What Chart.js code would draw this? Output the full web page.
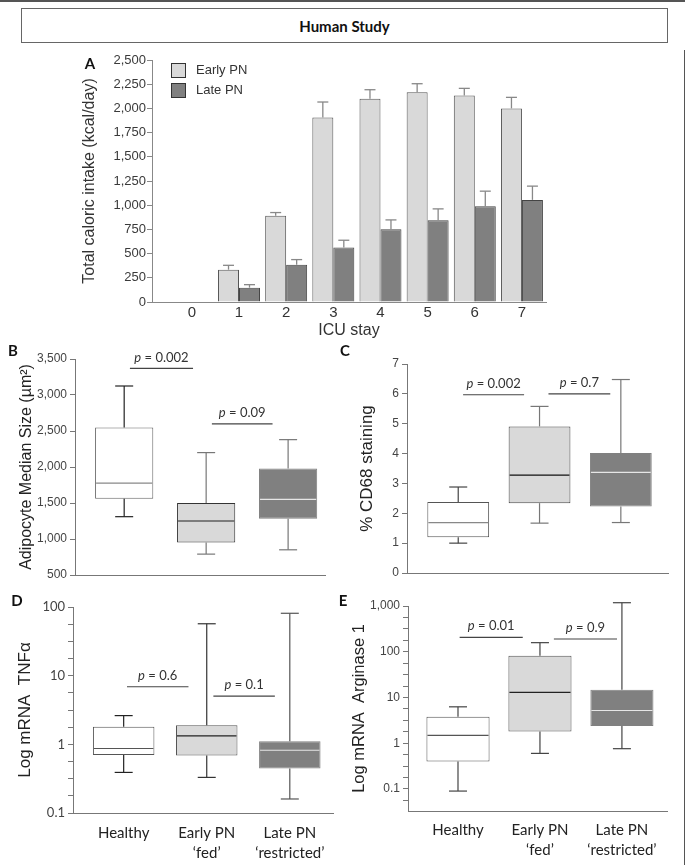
<!DOCTYPE html>
<html>
<head>
<meta charset="utf-8">
<script src="https://cdn.jsdelivr.net/npm/chart.js@4.4.1/dist/chart.umd.min.js"></script>
<style>
  body { margin: 0; background: #fff; }
  #page { position: relative; width: 685px; height: 865px; overflow: hidden; background: #fff; }
  .panel { position: absolute; }
  .lab { position: absolute; font: bold 15px Lato, sans-serif; color: #111; transform: translate(-50%, -50%); }
  #title { position: absolute; left: 21px; top: 8px; width: 647px; height: 35px; box-sizing: border-box;
           border: 1px solid #666; display: flex; align-items: center; justify-content: center;
           font: bold 15px Lato, sans-serif; color: #111; }
</style>
</head>
<body>
<div id="page">
  <div style="position:absolute;left:0;top:0;width:685px;height:2px;background:#555"></div>
  <div style="position:absolute;right:0;top:50px;width:1px;height:815px;background:#555"></div>
  <div id="title">Human Study</div>

  <div class="panel" style="left:0;top:45px;width:560px;height:300px"><canvas id="cA"></canvas></div>
  <div class="panel" style="left:0;top:340px;width:340px;height:250px"><canvas id="cB"></canvas></div>
  <div class="panel" style="left:340px;top:340px;width:345px;height:250px"><canvas id="cC"></canvas></div>
  <div class="panel" style="left:0;top:590px;width:340px;height:275px"><canvas id="cD"></canvas></div>
  <div class="panel" style="left:340px;top:590px;width:345px;height:275px"><canvas id="cE"></canvas></div>

  <div class="lab" style="left:90px;top:63px">A</div>
  <div class="lab" style="left:13px;top:350px">B</div>
  <div class="lab" style="left:345px;top:350px">C</div>
  <div class="lab" style="left:17px;top:600px">D</div>
  <div class="lab" style="left:343px;top:600px">E</div>
</div>
<script>
// panel A: caloric intake per ICU day (mean + error)
const days = [0, 1, 2, 3, 4, 5, 6, 7];
const earlyPN = [0, 334, 890, 1907, 2100, 2166, 2134, 2000];
const earlyErr = [0, 45, 34, 159, 93, 89, 73, 114];
const latePN = [0, 148, 386, 562, 752, 845, 990, 1055];
const lateErr = [0, 31, 52, 76, 96, 117, 155, 142];

// box plots: healthy, early PN, late PN
const groupLabels = [['Healthy'], ['Early PN', '\u2018fed\u2019'], ['Late PN', '\u2018restricted\u2019']];

const sizeMin = [1310, 790, 850];
const sizeQ1 = [1560, 950, 1280];
const sizeMed = [1775, 1250, 1550];
const sizeQ3 = [2550, 1500, 1980];
const sizeMax = [3125, 2200, 2380];
const sizeP = ['0.002', '0.09'];

const cd68Min = [1.0, 1.67, 1.69];
const cd68Q1 = [1.2, 2.34, 2.23];
const cd68Med = [1.69, 3.28, 3.37];
const cd68Q3 = [2.38, 4.91, 4.02];
const cd68Max = [2.88, 5.58, 6.48];
const cd68P = ['0.002', '0.7'];

const tnfMin = [0.39, 0.33, 0.16];
const tnfQ1 = [0.70, 0.69, 0.445];
const tnfMed = [0.87, 1.33, 0.82];
const tnfQ3 = [1.81, 1.9, 1.11];
const tnfMax = [2.62, 57, 81];
const tnfP = ['0.6', '0.1'];

const argMin = [0.09, 0.6, 0.76];
const argQ1 = [0.40, 1.81, 2.37];
const argMed = [1.48, 12.9, 5.2];
const argQ3 = [3.8, 82, 14.7];
const argMax = [6.25, 158, 1180];
const argP = ['0.01', '0.9'];

const tnfDecades = [0.1, 1, 10, 100];
const tnfDecadeLabels = ['0.1', '1', '10', '100'];
const argDecades = [0.1, 1, 10, 100, 1000];
const argDecadeLabels = ['0.1', '1', '10', '100', '1,000'];

const SANS = "'Liberation Sans', Arial, sans-serif";
const CAL = "Lato, 'Open Sans', sans-serif";
Chart.defaults.font.family = SANS;
Chart.defaults.color = '#444';
Chart.defaults.animation = false;

const fitY = w => s => { s.width = w; s.paddingTop = 0; s.paddingBottom = 0; };
const fitX = h => s => { s.height = h; s.paddingLeft = 0; s.paddingRight = 0; };

function line(ctx, x1, y1, x2, y2) {
  ctx.beginPath(); ctx.moveTo(x1, y1); ctx.lineTo(x2, y2); ctx.stroke();
}

const errorBars = {
  id: 'errorBars',
  afterDatasetsDraw(chart) {
    const { ctx, scales: { y } } = chart;
    ctx.save();
    ctx.strokeStyle = '#888';
    ctx.lineWidth = 1.3;
    chart.data.datasets.forEach((ds, di) => {
      chart.getDatasetMeta(di).data.forEach((bar, i) => {
        const e = ds.err[i];
        if (!e) return;
        const v = ds.data[i].y;
        const y0 = y.getPixelForValue(v), y1 = y.getPixelForValue(v + e);
        line(ctx, bar.x, y0, bar.x, y1);
        line(ctx, bar.x - 5.5, y1, bar.x + 5.5, y1);
      });
    });
    ctx.restore();
  }
};

const legendBoxes = {
  id: 'legendBoxes',
  afterDraw(chart, args, o) {
    const ctx = chart.ctx;
    ctx.save();
    chart.data.datasets.forEach((ds, i) => {
      const x = chart.chartArea.left + o.dx, y = chart.chartArea.top + o.dy + i * o.step;
      ctx.fillStyle = ds.backgroundColor;
      ctx.fillRect(x, y, o.size, o.size);
      ctx.strokeStyle = '#333';
      ctx.lineWidth = 1;
      ctx.strokeRect(x + 0.5, y + 0.5, o.size - 1, o.size - 1);
      ctx.fillStyle = '#333';
      ctx.font = '13px ' + SANS;
      ctx.textBaseline = 'middle';
      ctx.fillText(ds.label, x + o.size + 10, y + o.size / 2);
    });
    ctx.restore();
  }
};

const boxExtras = {
  id: 'boxExtras',
  afterDatasetsDraw(chart, args, o) {
    const { ctx, scales: { x, y } } = chart;
    const ds = chart.data.datasets[0];
    ctx.save();
    ctx.lineWidth = 1.2;
    chart.getDatasetMeta(0).data.forEach((bar, i) => {
      const cx = bar.x, half = bar.width / 2;
      const [q1, q3] = ds.data[i].y;
      const yLo = y.getPixelForValue(o.min[i]), yHi = y.getPixelForValue(o.max[i]);
      ctx.strokeStyle = o.whisker[i];
      line(ctx, cx, y.getPixelForValue(q3), cx, yHi);
      line(ctx, cx - 9, yHi, cx + 9, yHi);
      line(ctx, cx, y.getPixelForValue(q1), cx, yLo);
      line(ctx, cx - 9, yLo, cx + 9, yLo);
      ctx.strokeStyle = o.medColor[i];
      const ym = y.getPixelForValue(o.med[i]);
      line(ctx, cx - half + 1, ym, cx + half - 1, ym);
    });
    o.pvals.forEach(p => {
      const x1 = x.getPixelForValue(p.from), x2 = x.getPixelForValue(p.to), yy = y.getPixelForValue(p.y);
      ctx.strokeStyle = '#444';
      line(ctx, x1, yy, x2, yy);
      ctx.fillStyle = '#333';
      ctx.textBaseline = 'middle';
      ctx.font = 'italic 13px ' + CAL;
      const wp = ctx.measureText('p').width;
      const rest = ' = ' + p.text;
      ctx.font = '13px ' + CAL;
      const wr = ctx.measureText(rest).width;
      const sx = (x1 + x2) / 2 - (wp + wr) / 2;
      ctx.font = 'italic 13px ' + CAL;
      ctx.fillText('p', sx, yy - 11);
      ctx.font = '13px ' + CAL;
      ctx.fillText(rest, sx + wp, yy - 11);
    });
    ctx.restore();
  }
};

// ---- panel A
new Chart(document.getElementById('cA'), {
  type: 'bar',
  data: {
    datasets: [
      { label: 'Early PN', data: days.map((d, i) => ({ x: d, y: earlyPN[i] })), err: earlyErr,
        backgroundColor: '#d9d9d9', borderColor: '#555', borderWidth: c => (c.raw && c.raw.y ? 1 : 0) },
      { label: 'Late PN', data: days.map((d, i) => ({ x: d, y: latePN[i] })), err: lateErr,
        backgroundColor: '#808080', borderColor: '#444', borderWidth: c => (c.raw && c.raw.y ? 1 : 0) }
    ]
  },
  options: {
    responsive: true,
    maintainAspectRatio: false,
    layout: { padding: { left: 80, top: 15, right: 14, bottom: 5 } },
    datasets: { bar: { categoryPercentage: 0.89, barPercentage: 1 } },
    plugins: {
      legend: { display: false },
      tooltip: { enabled: false },
      legendBoxes: { dx: 19, dy: 3, step: 20, size: 15 }
    },
    scales: {
      x: {
        type: 'linear', min: -0.845, max: 7.51, offset: false,
        afterBuildTicks: s => { s.ticks = days.map(v => ({ value: v })); },
        afterFit: fitX(38),
        grid: { display: false, drawTicks: false },
        border: { color: '#888' },
        ticks: { autoSkip: false, padding: 2, font: { size: 15 }, color: '#333', callback: v => String(v) },
        title: { display: true, text: 'ICU stay', font: { size: 16 }, color: '#333', padding: 0 }
      },
      y: {
        min: 0, max: 2500,
        afterFit: fitY(72),
        ticks: { autoSkip: false, stepSize: 250, padding: 1, font: { size: 13 }, color: '#3a3a3a', callback: v => v.toLocaleString('en-US') },
        grid: { drawOnChartArea: false, tickLength: 5, color: '#888' },
        border: { color: '#888' },
        title: { display: true, text: 'Total caloric intake (kcal/day)', font: { size: 16 }, color: '#333', padding: 0 }
      }
    }
  },
  plugins: [errorBars, legendBoxes]
});

// ---- box panels
const boxFill = ['#ffffff', '#d9d9d9', '#808080'];

function boxPanel(id, o) {
  const yTicks = { autoSkip: false, padding: 3, font: o.tickFont, color: '#444' };
  if (o.decades) {
    yTicks.callback = v => {
      const k = o.decades.findIndex(d => Math.abs(d - v) / d < 1e-6);
      return k >= 0 ? o.decadeLabels[k] : '';
    };
  } else {
    yTicks.stepSize = o.step;
    yTicks.callback = v => v.toLocaleString('en-US');
  }
  return new Chart(document.getElementById(id), {
    type: 'bar',
    data: {
      datasets: [{
        data: o.q1.map((q, i) => ({ x: i, y: [q, o.q3[i]] })),
        backgroundColor: boxFill, borderColor: o.edge, borderWidth: 1, borderSkipped: false,
        barPercentage: o.bw, categoryPercentage: 1
      }]
    },
    options: {
      responsive: true,
      maintainAspectRatio: false,
      layout: { padding: o.pad },
      plugins: {
        legend: { display: false },
        tooltip: { enabled: false },
        boxExtras: { min: o.min, med: o.med, max: o.max, medColor: o.medColor, whisker: o.whisker, pvals: o.pvals }
      },
      scales: {
        x: {
          type: 'linear', min: o.xmin, max: o.xmax, offset: false,
          afterBuildTicks: s => { s.ticks = [0, 1, 2].map(v => ({ value: v })); },
          afterFit: fitX(o.xh),
          grid: { display: false, drawTicks: false },
          border: { color: '#777' },
          ticks: {
            autoSkip: false, display: !!o.labels, padding: o.lpad || 0,
            font: { family: CAL, size: 15, lineHeight: 1.33 }, color: '#222',
            callback: v => (o.labels ? o.labels[v] : '')
          }
        },
        y: {
          type: o.decades ? 'logarithmic' : 'linear',
          min: o.ymin, max: o.ymax,
          afterFit: fitY(o.yw),
          afterBuildTicks: o.minorTicks ? (s => { s.ticks = o.minorTicks.map(v => ({ value: v })); }) : undefined,
          ticks: yTicks,
          grid: { drawOnChartArea: false, tickLength: 5, color: '#777' },
          border: { color: '#777' },
          title: { display: true, text: o.title, font: { size: o.tsize }, color: '#222', padding: 0 }
        }
      }
    },
    plugins: [boxExtras]
  });
}

function logTicks(decades, lo, hi) {
  const t = [];
  [decades[0] / 10].concat(decades).forEach(d => {
    for (let k = 0; k < 4; k++) {
      const v = k === 0 ? d : d * Math.pow(10, k / 4);
      if (v >= lo * 0.999 && v <= hi * 1.001) t.push(v);
    }
  });
  return t;
}

boxPanel('cB', {
  q1: sizeQ1, q3: sizeQ3, min: sizeMin, med: sizeMed, max: sizeMax,
  edge: ['#666', '#333', '#808080'], whisker: ['#222', '#777', '#777'], medColor: ['#888', '#222', '#e6e6e6'],
  pvals: [{ text: sizeP[0], from: 0.07, to: 0.84, y: 3370 }, { text: sizeP[1], from: 1.07, to: 1.81, y: 2600 }],
  bw: 0.71, pad: { left: 17, top: 19, right: 15, bottom: 0 }, xh: 15, yw: 58,
  xmin: -0.6, xmax: 2.45, ymin: 500, ymax: 3500, step: 500,
  tickFont: { size: 12 }, title: 'Adipocyte Median Size (\u00b5m\u00b2)', tsize: 16
});

boxPanel('cC', {
  q1: cd68Q1, q3: cd68Q3, min: cd68Min, med: cd68Med, max: cd68Max,
  edge: ['#555', '#444', '#808080'], whisker: ['#444', '#777', '#777'], medColor: ['#888', '#111', '#e6e6e6'],
  pvals: [{ text: cd68P[0], from: 0.06, to: 0.81, y: 5.97 }, { text: cd68P[1], from: 1.11, to: 1.87, y: 6.0 }],
  bw: 0.76, pad: { left: 17, top: 24, right: 17, bottom: 0 }, xh: 17, yw: 50,
  xmin: -0.63, xmax: 2.58, ymin: 0, ymax: 7, step: 1,
  tickFont: { size: 12 }, title: '% CD68 staining', tsize: 17
});

boxPanel('cD', {
  q1: tnfQ1, q3: tnfQ3, min: tnfMin, med: tnfMed, max: tnfMax,
  edge: ['#555', '#555', '#808080'], whisker: ['#222', '#333', '#555'], medColor: ['#555', '#222', '#e6e6e6'],
  pvals: [{ text: tnfP[0], from: 0.04, to: 0.78, y: 6.9 }, { text: tnfP[1], from: 1.08, to: 1.82, y: 5.05 }],
  bw: 0.74, pad: { left: 15, top: 17, right: 7, bottom: 0 }, xh: 52, yw: 58,
  xmin: -0.61, xmax: 2.52, ymin: 0.1, ymax: 100,
  decades: tnfDecades, decadeLabels: tnfDecadeLabels, minorTicks: logTicks(tnfDecades, 0.1, 100),
  labels: groupLabels, lpad: 10,
  tickFont: { family: CAL, size: 13 }, title: 'Log mRNA  TNF\u03b1', tsize: 17
});

boxPanel('cE', {
  q1: argQ1, q3: argQ3, min: argMin, med: argMed, max: argMax,
  edge: ['#555', '#555', '#808080'], whisker: ['#444', '#444', '#444'], medColor: ['#555', '#222', '#e6e6e6'],
  pvals: [{ text: argP[0], from: 0.02, to: 0.79, y: 207 }, { text: argP[1], from: 1.17, to: 1.94, y: 190 }],
  bw: 0.77, pad: { left: 10, top: 16, right: 18, bottom: 0 }, xh: 54, yw: 58,
  xmin: -0.61, xmax: 2.55, ymin: 0.033, ymax: 1000,
  decades: argDecades, decadeLabels: argDecadeLabels, minorTicks: logTicks(argDecades, 0.033, 1000),
  labels: groupLabels, lpad: 9,
  tickFont: { size: 12 }, title: 'Log mRNA  Arginase 1', tsize: 16.5
});
</script>
</body>
</html>
